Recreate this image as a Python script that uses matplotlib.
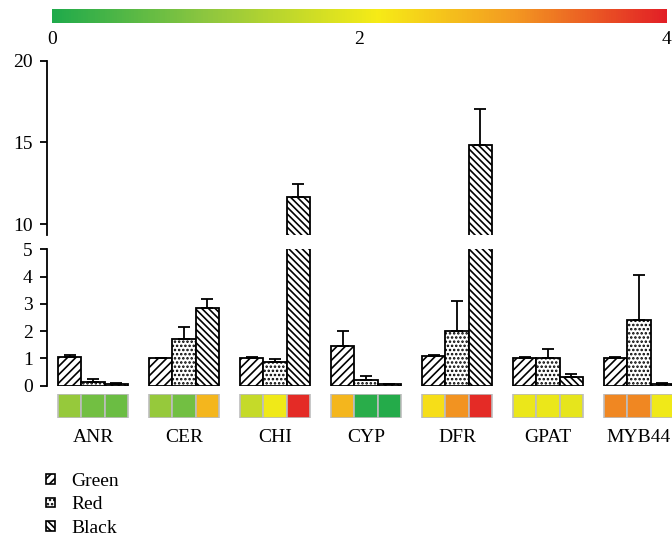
import numpy as np
import matplotlib
matplotlib.use('Agg')
import matplotlib.pyplot as plt
import matplotlib.transforms as mtransforms
from matplotlib.colors import LinearSegmentedColormap, Normalize
from matplotlib.colorbar import ColorbarBase
from matplotlib.patches import Patch

genes = ['ANR', 'CER', 'CHI', 'CYP', 'DFR', 'GPAT', 'MYB44']
groups = ['Green', 'Red', 'Black']

# relative expression (bars) and upper error
green_vals = [1.07, 1.00, 1.01, 1.46, 1.09, 1.03, 1.02]
green_err = [0.04, 0.03, 0.04, 0.53, 0.03, 0.03, 0.03]
red_vals = [0.13, 1.72, 0.87, 0.20, 2.01, 1.02, 2.40]
red_err = [0.12, 0.42, 0.10, 0.15, 1.10, 0.33, 1.66]
black_vals = [0.06, 2.86, 11.66, 0.05, 14.83, 0.33, 0.07]
black_err = [0.03, 0.33, 0.80, 0.03, 2.24, 0.11, 0.03]

# heat strip values (0-4 scale)
heat_green = [1.1, 1.1, 1.6, 2.7, 2.25, 2.0, 3.15]
heat_red = [0.75, 0.75, 2.05, 0.1, 3.05, 2.0, 3.15]
heat_black = [0.7, 2.7, 3.9, 0.05, 3.9, 1.95, 2.05]

cbar_ticks = [0, 2, 4]
top_ticks = [10, 15, 20]
bottom_ticks = [0, 1, 2, 3, 4, 5]

hatches = ['////', '....', '\\\\\\\\\\']

plt.rcParams['font.family'] = ['Liberation Serif', 'DejaVu Serif']
plt.rcParams['font.size'] = 14
plt.rcParams['hatch.linewidth'] = 1.2

cmap = LinearSegmentedColormap.from_list('gyr', [
    (0.0, '#1FAA4B'), (0.25, '#8DC63F'), (0.53, '#F6EB16'),
    (0.75, '#F39A21'), (1.0, '#E21F26')])
norm = Normalize(0, 4)

W = 672
H = 539
XLIM = (-0.509, 6.363)
BW = 0.258


def fig_box(x0, y0, x1, y1):
    # pixel box (top-left origin) -> figure fraction
    return [x0 / W, 1 - y1 / H, (x1 - x0) / W, (y1 - y0) / H]


def draw_bars(ax):
    x = np.arange(len(genes))
    series = [(green_vals, green_err), (red_vals, red_err), (black_vals, black_err)]
    for k, (vals, err) in enumerate(series):
        pos = x + (k - 1) * BW
        ax.bar(pos, vals, BW, color='white', edgecolor='black',
               hatch=hatches[k], linewidth=1.3, zorder=2)
        ax.errorbar(pos, vals, yerr=[np.zeros(len(vals)), err], fmt='none',
                    ecolor='black', elinewidth=1.3, capsize=4, capthick=1.3, zorder=3)
    ax.set_xlim(*XLIM)
    for s in ['top', 'right', 'bottom']:
        ax.spines[s].set_visible(False)
    ax.spines['left'].set_linewidth(1.3)
    ax.set_xticks([])
    ax.tick_params(axis='y', length=5, width=1.3, pad=5)


def main():
    fig = plt.figure(figsize=(W / 100, H / 100), dpi=100)

    ax_top = fig.add_axes(fig_box(46.7, 60.7, W, 235))
    draw_bars(ax_top)
    ax_top.set_ylim(9.33, 20)
    ax_top.set_yticks(top_ticks)

    ax_bot = fig.add_axes(fig_box(46.7, 249.3, W, 385.7))
    draw_bars(ax_bot)
    ax_bot.set_ylim(0, 5)
    ax_bot.set_yticks(bottom_ticks)

    # heat strip
    ax_heat = fig.add_axes(fig_box(46.7, 394, W, 418.3))
    x = np.arange(len(genes))
    for k, hv in enumerate([heat_green, heat_red, heat_black]):
        ax_heat.bar(x + (k - 1) * BW, [1] * len(hv), BW, bottom=0,
                    color=cmap(norm(np.array(hv))), edgecolor='#BDBDBD', linewidth=1.2)
    ax_heat.set_xlim(*XLIM)
    ax_heat.set_ylim(0, 1)
    ax_heat.axis('off')
    trans = mtransforms.blended_transform_factory(ax_heat.transData, ax_heat.transAxes)
    for i, g in enumerate(genes):
        ax_heat.text(i, -0.975, g, transform=trans, ha='center', va='baseline')

    # colour bar
    ax_cb = fig.add_axes(fig_box(52, 9.3, 666.5, 22.7))
    cb = ColorbarBase(ax_cb, cmap=cmap, norm=norm, orientation='horizontal', ticks=cbar_ticks)
    cb.outline.set_visible(False)
    ax_cb.tick_params(length=0, pad=6)

    handles = [Patch(facecolor='white', edgecolor='black', hatch=h, linewidth=1.2) for h in hatches]
    fig.legend(handles, groups, loc='upper left', bbox_to_anchor=(46 / W, 1 - 473 / H),
               frameon=False, borderpad=0, borderaxespad=0, handlelength=0.45,
               handleheight=0.4, handletextpad=0.85, labelspacing=0.33)

    fig.savefig('out.png', dpi=100)


if __name__ == '__main__':
    main()
